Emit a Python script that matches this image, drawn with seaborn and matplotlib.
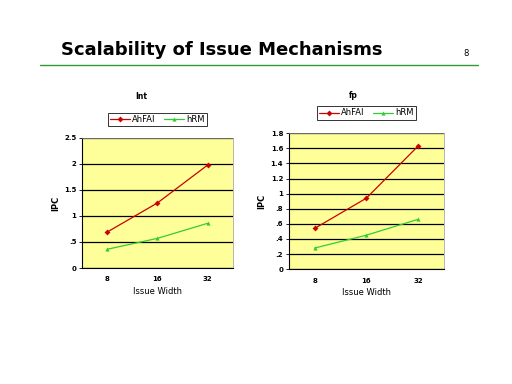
import matplotlib.pyplot as plt
import pandas as pd
import seaborn as sns

# Data
widths = ['8', '16', '32']
int_rfai = [0.69, 1.25, 1.98]
int_nrm = [0.36, 0.57, 0.86]
fp_rfai = [0.54, 0.94, 1.63]
fp_nrm = [0.28, 0.45, 0.66]
series_names = ['AhFAI', 'hRM']
int_ticks = [0, 0.5, 1, 1.5, 2, 2.5]
int_ticklabels = ['0', '.5', '1', '1.5', '2', '2.5']
fp_ticks = [0, 0.2, 0.4, 0.6, 0.8, 1.0, 1.2, 1.4, 1.6, 1.8]
fp_ticklabels = ['0', '.2', '.4', '.6', '.8', '1', '1.2', '1.4', '1.6', '1.8']

sns.set_style('white')
plt.rcParams['font.family'] = ['DejaVu Sans']
plt.rcParams['text.color'] = 'black'
plt.rcParams['axes.labelcolor'] = 'black'
plt.rcParams['xtick.color'] = 'black'
plt.rcParams['ytick.color'] = 'black'

fig = plt.figure(figsize=(5.12, 3.84), dpi=100)
fig.patch.set_facecolor('white')

# Slide title and rule
fig.text(0.12, 0.857, 'Scalability of Issue Mechanisms', fontsize=13, fontweight='bold')
fig.text(0.905, 0.855, '8', fontsize=6)
fig.add_artist(plt.Line2D([0.078, 0.934], [0.83, 0.83], color='#339933', lw=1))

palette = {series_names[0]: '#cc0000', series_names[1]: '#33cc33'}


def draw_panel(rect, title, a, b, ticks, ticklabels, ymax, title_pos, leg_y):
    df = pd.DataFrame({
        'width': widths * 2,
        'ipc': a + b,
        'series': [series_names[0]] * 3 + [series_names[1]] * 3,
    })
    ax = fig.add_axes(rect)
    ax.set_facecolor('#ffff99')
    sns.lineplot(data=df, x='width', y='ipc', hue='series', style='series',
                 markers={series_names[0]: 'D', series_names[1]: '^'},
                 dashes=False, palette=palette, lw=0.9, markersize=3,
                 markeredgewidth=0, ax=ax, sort=False)
    ax.set_xlim(-0.5, 2.5)
    ax.set_ylim(0, ymax)
    ax.set_yticks(ticks)
    ax.set_yticklabels(ticklabels, fontsize=5, fontweight='bold')
    ax.tick_params(axis='x', labelsize=5, length=0, pad=6)
    for t in ax.get_xticklabels():
        t.set_fontweight('bold')
    ax.tick_params(axis='y', length=2, width=0.6, left=True, pad=2)
    ax.yaxis.grid(True, color='black', lw=0.9)
    ax.set_axisbelow(True)
    for s in ['top', 'right']:
        ax.spines[s].set_color('#999999')
        ax.spines[s].set_linewidth(0.5)
    for s in ['left', 'bottom']:
        ax.spines[s].set_color('black')
        ax.spines[s].set_linewidth(0.8)
    ax.set_xlabel('Issue Width', fontsize=6, labelpad=3)
    ax.set_ylabel('IPC', fontsize=6, labelpad=3, fontweight='bold')
    leg = ax.legend(loc='lower center', bbox_to_anchor=(0.5, leg_y), ncol=2,
                    fontsize=6, frameon=True, fancybox=False, borderpad=0.25,
                    handlelength=2.4, columnspacing=1.0, handletextpad=0.3)
    leg.get_frame().set_edgecolor('black')
    leg.get_frame().set_linewidth(0.7)
    leg.set_title(None)
    fig.text(title_pos[0], title_pos[1], title, fontsize=5.5, fontweight='bold')
    return ax


draw_panel([0.160, 0.302, 0.295, 0.339], 'Int', int_rfai, int_nrm,
           int_ticks, int_ticklabels, 2.5, (0.265, 0.742), 1.06)
draw_panel([0.564, 0.299, 0.303, 0.354], 'fp', fp_rfai, fp_nrm,
           fp_ticks, fp_ticklabels, 1.8, (0.682, 0.745), 1.07)

fig.savefig('out.png', dpi=100)
